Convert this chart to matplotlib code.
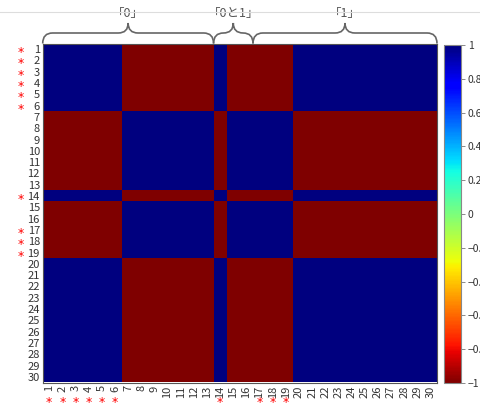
import numpy as np
import matplotlib
matplotlib.use('Agg')
import matplotlib.pyplot as plt
from matplotlib.path import Path
from matplotlib.patches import PathPatch
from matplotlib.lines import Line2D

plt.rcParams['font.family'] = ['Noto Sans CJK JP', 'DejaVu Sans']

# item numbers and the sign of each item (+1 blue, -1 red)
items = list(range(1, 31))
sign = [1, 1, 1, 1, 1, 1,
        -1, -1, -1, -1, -1, -1, -1,
        1,
        -1, -1, -1, -1, -1,
        1, 1, 1, 1, 1, 1, 1, 1, 1, 1, 1]
starred = [1, 2, 3, 4, 5, 6, 14, 17, 18, 19]

# brace groups over the columns
group_names = ['「0」', '「0と1」', '「1」']
group_start = [1, 14, 17]
group_end = [13, 16, 30]

cbar_ticks = [1, 0.8, 0.6, 0.4, 0.2, 0, -0.2, -0.4, -0.6, -0.8, -1]
cbar_labels = ['1', '0.8', '0.6', '0.4', '0.2', '0', '−0.2', '−0.4', '−0.6', '−0.8', '−1']

corr = np.outer(sign, sign)
n = len(items)

fig = plt.figure(figsize=(4.81, 4.05), dpi=100)
W, H = 481, 405
ax = fig.add_axes([42.7 / W, 1 - 382.5 / H, 394.3 / W, 339 / H])
im = ax.imshow(corr, cmap='jet_r', vmin=-1, vmax=1, aspect='auto',
               extent=(0.5, n + 0.5, n + 0.5, 0.5), interpolation='nearest')

ax.set_xticks(items)
ax.set_yticks(items)
ax.set_xticklabels([str(i) for i in items], rotation=90, fontsize=8, color='#333333')
ax.set_yticklabels([str(i) for i in items], fontsize=8, color='#333333')
ax.tick_params(length=0, pad=2)
for s in ax.spines.values():
    s.set_color('#555555')
    s.set_linewidth(0.8)

# red asterisks next to the starred items
for i in starred:
    ax.annotate('*', xy=(0, i), xycoords=('axes fraction', 'data'),
                xytext=(-15.5, -2.5), textcoords='offset points',
                ha='center', va='center', color='red', fontsize=9,
                family='DejaVu Sans', annotation_clip=False)
    ax.annotate('*', xy=(i, 0), xycoords=('data', 'axes fraction'),
                xytext=(0, -14.5), textcoords='offset points',
                ha='center', va='center', color='red', fontsize=9,
                family='DejaVu Sans', annotation_clip=False)

# curly braces above the heatmap
y0 = 0.5
yh = 0.5 - 10.5 / 11.3
ytip = 0.5 - 20.5 / 11.3
rx = 0.75
for name, a, b in zip(group_names, group_start, group_end):
    x0, x1 = a - 0.5, b + 0.5
    xm = (x0 + x1) / 2
    verts = [(x0, y0), (x0, yh), (x0 + rx, yh),
             (xm - rx, yh), (xm, yh), (xm, ytip),
             (xm, yh), (xm + rx, yh),
             (x1 - rx, yh), (x1, yh), (x1, y0)]
    codes = [Path.MOVETO, Path.CURVE3, Path.CURVE3,
             Path.LINETO, Path.CURVE3, Path.CURVE3,
             Path.CURVE3, Path.CURVE3,
             Path.LINETO, Path.CURVE3, Path.CURVE3]
    ax.add_patch(PathPatch(Path(verts, codes), fill=False, edgecolor='#666666',
                           lw=1.2, clip_on=False))
    ax.text(xm, 0.5 - 29.5 / 11.3, name, ha='center', va='center',
            fontsize=9, color='#555555', clip_on=False)

# colorbar
cax = fig.add_axes([444 / W, 1 - 383 / H, 17 / W, 338 / H])
cb = fig.colorbar(im, cax=cax, ticks=cbar_ticks)
cb.ax.set_yticklabels(cbar_labels)
cb.ax.tick_params(labelsize=7.5, length=3, width=0.6, color='#777777', labelcolor='#333333', pad=2)
cb.outline.set_edgecolor('#888888')
cb.outline.set_linewidth(0.8)

# thin grey line at the top of the screenshot
fig.add_artist(Line2D([0, 1], [1 - 12 / H, 1 - 12 / H], transform=fig.transFigure,
                      color='#dddddd', lw=0.8))

fig.savefig('out.png', dpi=100)
